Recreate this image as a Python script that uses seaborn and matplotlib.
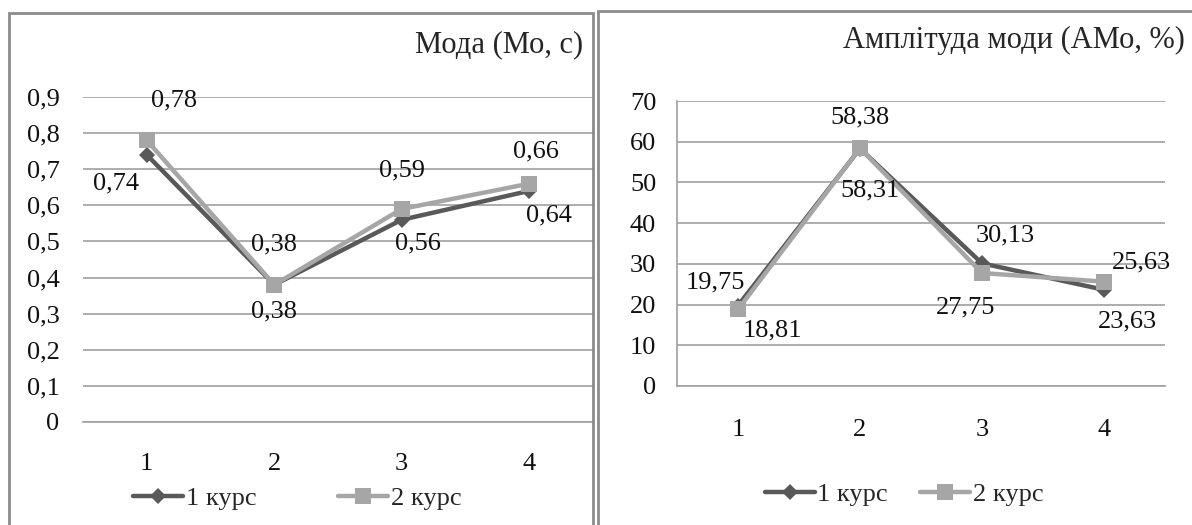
import pandas as pd
import numpy as np
import matplotlib
matplotlib.use("Agg")
import matplotlib.pyplot as plt
import seaborn as sns
from matplotlib.patches import Rectangle
from matplotlib.ticker import FuncFormatter

# data
stages = [1, 2, 3, 4]
series_names = ["1 курс", "2 курс"]
mo_kurs1 = [0.74, 0.38, 0.56, 0.64]
mo_kurs2 = [0.78, 0.38, 0.59, 0.66]
amo_kurs1 = [19.75, 58.31, 30.13, 23.63]
amo_kurs2 = [18.81, 58.38, 27.75, 25.63]

title_left = "Мода (Мо, с)"
title_right = "Амплітуда моди (АМо, %)"

# label offsets in points (style only)
left_offsets = {
    "1 курс": [(-22, -21), (0, -19), (12, -17), (14, -18)],
    "2 курс": [(20, 29), (0, 29), (0, 28), (5, 23)],
}
right_offsets = {
    "1 курс": [(-16, 17), (7, -30), (17, 20), (17, -23)],
    "2 курс": [(25, -15), (0, 22), (-12, -25), (27, 14)],
}

colors = {"1 курс": "#595959", "2 курс": "#a6a6a6"}
markers = {"1 курс": "D", "2 курс": "s"}
msizes = {"1 курс": 8, "2 курс": 12}
FS = 19

sns.set_theme(style="white")
plt.rcParams["font.family"] = ["Liberation Serif", "DejaVu Serif"]

W, H = 1192, 525
fig = plt.figure(figsize=(W / 100, H / 100), dpi=100)


def px_axes(x0, x1, ytop, ybot):
    return fig.add_axes([x0 / W, (H - ybot) / H, (x1 - x0) / W, (ybot - ytop) / H])


def comma(v, pos, nd):
    if abs(v) < 1e-9:
        return "0"
    return f"{v:.{nd}f}".replace(".", ",")


def draw_panel(ax, v1, v2, ymax, ystep, nd, offsets):
    df = pd.DataFrame({
        "stage": stages * 2,
        "value": v1 + v2,
        "series": [series_names[0]] * 4 + [series_names[1]] * 4,
    })
    sns.lineplot(data=df, x="stage", y="value", hue="series", style="series",
                 palette=colors, markers=markers, dashes=False, linewidth=3.2,
                 markeredgewidth=0, legend=False, ax=ax)
    for line, name in zip(ax.lines, series_names):
        line.set_markersize(msizes[name])
    for name, vals in zip(series_names, [v1, v2]):
        for x, v, off in zip(stages, vals, offsets[name]):
            ax.annotate(comma(v, None, 2), (x, v), xytext=off,
                        textcoords="offset points", ha="center", va="center",
                        fontsize=FS, color="#111111")
    ax.set_xlim(0.5, 4.5)
    ax.set_ylim(0, ymax)
    ax.set_yticks(np.arange(0, ymax + ystep / 2, ystep))
    ax.set_xticks(stages)
    ax.yaxis.set_major_formatter(FuncFormatter(lambda v, p: comma(v, p, nd)))
    ax.grid(axis="y", color="#a0a0a0", linewidth=1.2)
    ax.set_axisbelow(True)
    ax.set_xlabel("")
    ax.set_ylabel("")
    ax.tick_params(axis="both", labelsize=FS, colors="#111111", length=0)
    ax.tick_params(axis="y", pad=17)
    ax.tick_params(axis="x", pad=22)
    for s in ["top", "right", "left"]:
        ax.spines[s].set_visible(False)
    ax.spines["bottom"].set_color("#a0a0a0")
    ax.spines["bottom"].set_linewidth(1.2)


# left panel
axl = px_axes(83, 593, 97, 422)
draw_panel(axl, mo_kurs1, mo_kurs2, 0.9, 0.1, 1, left_offsets)
axl.legend(axl.lines[:2], series_names, loc="center", bbox_to_anchor=(0.42, -0.235),
           ncol=2, frameon=False, fontsize=FS, handlelength=1.9,
           handletextpad=0.1, columnspacing=3.1)

# right panel
axr = px_axes(677, 1165, 101, 386)
draw_panel(axr, amo_kurs1, amo_kurs2, 70, 10, 0, right_offsets)
axr.spines["left"].set_visible(True)
axr.spines["left"].set_color("#a0a0a0")
axr.spines["left"].set_linewidth(1.2)
axr.tick_params(axis="y", pad=15)
axr.tick_params(axis="x", pad=24)
axr.legend(axr.lines[:2], series_names, loc="center", bbox_to_anchor=(0.465, -0.38),
           ncol=2, frameon=False, fontsize=FS, handlelength=1.9,
           handletextpad=0.1, columnspacing=1.2)

# titles
fig.text(583 / W, 1 - 45 / H, title_left, ha="right", va="center", fontsize=22)
fig.text(1185 / W, 1 - 40 / H, title_right, ha="right", va="center", fontsize=22)

# panel borders
for x0, y0, x1 in [(9, 13, 593), (598, 11, 1200)]:
    fig.patches.append(Rectangle((x0 / W, -0.05), (x1 - x0) / W, 1.05 - y0 / H,
                                 transform=fig.transFigure, fill=False,
                                 edgecolor="#8c8c8c", linewidth=2))

fig.savefig("out.png", dpi=100)
